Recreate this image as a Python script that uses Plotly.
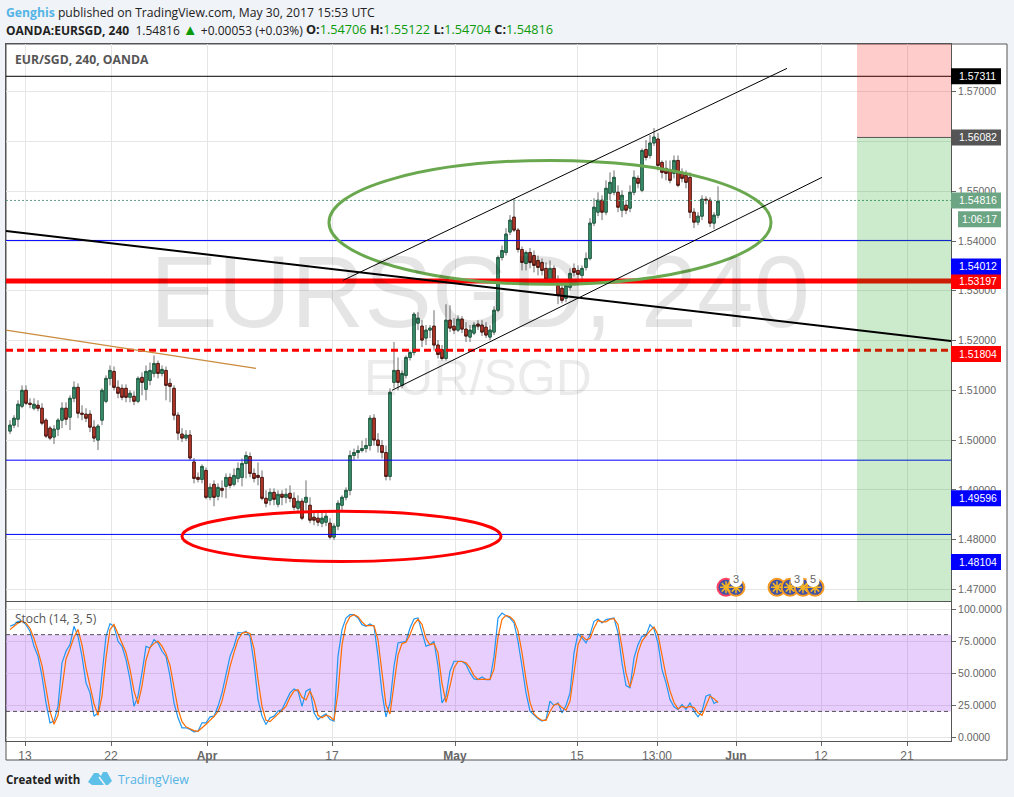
import plotly.graph_objects as go

opens = [1.5018,1.5030,1.5042,1.5068,1.5100,1.5074,1.5064,1.5070,1.5064,1.5040,
1.5024,1.5006,1.5022,1.5040,1.5064,1.5046,1.5084,1.5106,1.5054,1.5052,
1.5052,1.5026,1.5000,1.5040,1.5078,1.5124,1.5138,1.5106,1.5104,1.5104,
1.5086,1.5088,1.5078,1.5126,1.5102,1.5120,1.5134,1.5154,1.5134,1.5140,
1.5114,1.5104,1.5050,1.5012,1.5004,1.5010,1.4956,1.4925,1.4921,1.4939,
1.4885,1.4911,1.4887,1.4903,1.4907,1.4925,1.4911,1.4923,1.4925,1.4953,
1.4967,1.4933,1.4929,1.4925,1.4883,1.4879,1.4895,1.4871,1.4891,1.4885,
1.4893,1.4883,1.4863,1.4877,1.4875,1.4869,1.4845,1.4843,1.4833,1.4835,
1.4833,1.4805,1.4827,1.4869,1.4885,1.4899,1.4969,1.4975,1.4979,1.4983,
1.4989,1.5044,1.5000,1.4989,1.4975,1.4927,1.5116,1.5140,1.5110,1.5130,
1.5166,1.5176,1.5235,1.5229,1.5205,1.5221,1.5229,1.5191,1.5182,1.5164,
1.5241,1.5229,1.5221,1.5243,1.5223,1.5207,1.5215,1.5233,1.5231,1.5227,
1.5207,1.5217,1.5261,1.5367,1.5377,1.5418,1.5448,1.5422,1.5383,1.5355,
1.5377,1.5371,1.5361,1.5357,1.5345,1.5323,1.5345,1.5311,1.5305,1.5285,
1.5307,1.5345,1.5341,1.5331,1.5347,1.5365,1.5436,1.5458,1.5482,1.5458,
1.5496,1.5498,1.5498,1.5462,1.5472,1.5466,1.5498,1.5526,1.5502,1.5584,
1.5572,1.5597,1.5605,1.5558,1.5546,1.5542,1.5536,1.5562,1.5538,1.5532,
1.5528,1.5458,1.5438,1.5450,1.5484,1.5482,1.5436,1.5452]
closes = [1.5030,1.5044,1.5072,1.5100,1.5074,1.5072,1.5072,1.5064,1.5034,1.5008,
1.5004,1.5022,1.5040,1.5064,1.5042,1.5084,1.5106,1.5054,1.5052,1.5044,
1.5026,1.5004,1.5028,1.5100,1.5124,1.5140,1.5106,1.5094,1.5086,1.5086,
1.5094,1.5078,1.5124,1.5116,1.5138,1.5140,1.5154,1.5134,1.5142,1.5110,
1.5108,1.5050,1.5014,1.5004,1.5010,1.4964,1.4923,1.4921,1.4947,1.4885,
1.4905,1.4885,1.4905,1.4899,1.4925,1.4909,1.4929,1.4943,1.4953,1.4969,
1.4933,1.4923,1.4925,1.4883,1.4873,1.4895,1.4881,1.4891,1.4885,1.4891,
1.4883,1.4865,1.4877,1.4843,1.4885,1.4839,1.4839,1.4835,1.4843,1.4847,
1.4805,1.4827,1.4873,1.4885,1.4899,1.4969,1.4975,1.4979,1.4983,1.4989,
1.5044,1.5000,1.4989,1.4975,1.4927,1.5096,1.5140,1.5116,1.5134,1.5166,
1.5176,1.5253,1.5245,1.5201,1.5221,1.5225,1.5191,1.5172,1.5164,1.5241,
1.5225,1.5221,1.5243,1.5223,1.5209,1.5221,1.5231,1.5229,1.5217,1.5211,
1.5221,1.5261,1.5367,1.5381,1.5414,1.5442,1.5422,1.5383,1.5357,1.5377,
1.5357,1.5351,1.5347,1.5341,1.5323,1.5345,1.5321,1.5291,1.5281,1.5311,
1.5335,1.5337,1.5333,1.5345,1.5365,1.5436,1.5468,1.5482,1.5458,1.5506,
1.5518,1.5528,1.5468,1.5492,1.5462,1.5498,1.5528,1.5516,1.5582,1.5568,
1.5597,1.5609,1.5552,1.5538,1.5536,1.5522,1.5562,1.5512,1.5526,1.5518,
1.5458,1.5438,1.5450,1.5484,1.5482,1.5436,1.5452,1.5480]
highs = [1.5040,1.5050,1.5080,1.5110,1.5110,1.5084,1.5084,1.5080,1.5074,1.5044,
1.5028,1.5030,1.5044,1.5076,1.5076,1.5090,1.5118,1.5114,1.5070,1.5064,
1.5060,1.5040,1.5032,1.5104,1.5130,1.5150,1.5148,1.5120,1.5112,1.5112,
1.5100,1.5098,1.5128,1.5136,1.5150,1.5156,1.5170,1.5160,1.5150,1.5148,
1.5124,1.5110,1.5056,1.5024,1.5020,1.5020,1.4964,1.4935,1.4951,1.4945,
1.4913,1.4919,1.4913,1.4919,1.4933,1.4933,1.4943,1.4955,1.4963,1.4977,
1.4975,1.4943,1.4955,1.4939,1.4899,1.4903,1.4903,1.4899,1.4899,1.4903,
1.4909,1.4895,1.4889,1.4883,1.4919,1.4885,1.4859,1.4859,1.4859,1.4859,
1.4843,1.4833,1.4879,1.4889,1.4905,1.4979,1.4983,1.4989,1.4999,1.5004,
1.5050,1.5052,1.5014,1.5000,1.4989,1.5104,1.5197,1.5166,1.5140,1.5170,
1.5180,1.5257,1.5257,1.5241,1.5231,1.5231,1.5261,1.5201,1.5191,1.5273,
1.5271,1.5245,1.5251,1.5249,1.5237,1.5231,1.5237,1.5241,1.5241,1.5237,
1.5231,1.5269,1.5371,1.5391,1.5426,1.5452,1.5486,1.5426,1.5389,1.5381,
1.5386,1.5381,1.5371,1.5365,1.5357,1.5361,1.5351,1.5331,1.5321,1.5321,
1.5345,1.5355,1.5351,1.5351,1.5377,1.5446,1.5486,1.5498,1.5492,1.5522,
1.5538,1.5542,1.5512,1.5502,1.5482,1.5512,1.5542,1.5532,1.5586,1.5603,
1.5613,1.5627,1.5617,1.5562,1.5562,1.5562,1.5572,1.5572,1.5546,1.5542,
1.5538,1.5466,1.5458,1.5492,1.5490,1.5488,1.5458,1.5510]
lows = [1.5012,1.5024,1.5026,1.5064,1.5070,1.5064,1.5060,1.5058,1.5030,1.5004,
1.5000,1.4992,1.5008,1.5024,1.5030,1.5020,1.5076,1.5044,1.5040,1.5036,
1.5016,1.4996,1.4980,1.5030,1.5074,1.5110,1.5100,1.5084,1.5080,1.5076,
1.5076,1.5070,1.5074,1.5090,1.5080,1.5110,1.5126,1.5124,1.5128,1.5080,
1.5076,1.5040,1.5000,1.4996,1.4998,1.4960,1.4913,1.4915,1.4913,1.4881,
1.4879,1.4867,1.4879,1.4885,1.4883,1.4903,1.4907,1.4915,1.4907,1.4923,
1.4925,1.4915,1.4909,1.4879,1.4865,1.4869,1.4869,1.4865,1.4869,1.4873,
1.4875,1.4859,1.4855,1.4839,1.4859,1.4833,1.4829,1.4827,1.4825,1.4827,
1.4801,1.4799,1.4819,1.4859,1.4879,1.4889,1.4959,1.4963,1.4975,1.4975,
1.4979,1.4989,1.4975,1.4963,1.4919,1.4919,1.5104,1.5100,1.5104,1.5124,
1.5160,1.5170,1.5221,1.5187,1.5191,1.5205,1.5180,1.5164,1.5160,1.5160,
1.5217,1.5213,1.5217,1.5215,1.5197,1.5197,1.5211,1.5221,1.5209,1.5205,
1.5201,1.5211,1.5257,1.5361,1.5371,1.5412,1.5418,1.5377,1.5341,1.5341,
1.5345,1.5337,1.5331,1.5331,1.5317,1.5317,1.5315,1.5273,1.5275,1.5277,
1.5301,1.5329,1.5321,1.5317,1.5341,1.5361,1.5430,1.5450,1.5442,1.5452,
1.5482,1.5492,1.5458,1.5448,1.5454,1.5458,1.5492,1.5506,1.5498,1.5562,
1.5566,1.5591,1.5542,1.5526,1.5522,1.5516,1.5526,1.5508,1.5518,1.5506,
1.5446,1.5426,1.5432,1.5442,1.5474,1.5428,1.5424,1.5446]

stoch_k = [86.5,87.8,90.4,90.4,87.8,82.6,70.9,63,47.5,26.7,
11.1,12.4,24,57.9,67,72.2,86.5,78.7,63,42.3,
34.5,16.3,18.9,47.5,78.7,88.6,86.5,74.8,70.9,60.5,
44.9,24,31.9,50.1,70.9,69.6,76.1,73.5,67,63,
47.5,26.7,15,7.2,7.2,5.9,4.1,4.6,11.1,11.1,
15.8,16.3,24,34.5,48.8,63,70.9,81.8,81.3,82.6,
78.7,57.9,29.3,16.3,9.8,15,16.3,20.2,21.5,28,
34.5,37.6,35.8,24,35.8,37.6,18.9,13.7,16.3,18.1,
13.7,12.4,63,83.9,93,95.6,95.6,93,87.8,86.5,
88.3,86.5,63,34.5,15.8,26.7,55.3,73.5,74,74.8,
85.2,92.2,93,81.3,70.9,72.2,74.8,55.3,26.7,31.9,
51.4,59.2,59.2,59.2,56.6,50.1,45.4,44.9,47,44.9,
44.9,63,93,96.9,94.8,93,89.1,74.8,55.3,34.5,
20.2,16.8,14.2,12.4,13.7,28,24.6,26.7,18.9,24.6,
34.5,65.7,80.8,77.4,73.5,80,90.4,92.2,89.1,91.7,
92.2,93,81.3,57.9,40.2,38.4,61.8,72.2,78.7,79.2,
87.8,84.4,73.5,52.7,42.3,29.3,23.6,21.5,25.4,21.5,
26.7,20.2,15.8,20.2,31.9,33.2,26.2,28]
stoch_d = [84,86.5,89,90.5,89,85,77,67,56,38,
20,10,17,38,61,69,78,84,72,54,
39,26,17,32,62,84,88,81,73,66,
53,36,26,40,60,70,73,75,71,65,
56,38,22,12,8,6.5,5,4.5,7,10,
13,16,20,28,41,55,66,76,81,82,
81,69,45,24,13,12,15,18,21,24,
31,36,37,31,29,36,29,17,15,17,
16,13,35,72,88,94,95.6,94,90,87,
87,87,76,50,25,18,40,64,73,74,
80,88,92,88,77,72,73,66,42,27,
40,54,59,59,58,54,48,45,45,45,
45,53,78,92,95,94,91,83,66,45,
27,18,15,13,13,20,25,26,23,21,
28,50,72,79,76,77,85,91,90,90,
92,92.5,88,70,50,39,50,66,75,79,
83,86,80,64,48,36,27,22,24,23,
24,23,19,17,25,32,30,27]

assert all(len(a) == 178 for a in (opens, closes, highs, lows, stoch_k, stoch_d))
bars = list(range(178))

date_tick_bars = [3.75, 25.25, 49.25, 80.5, 111.25, 141.75, 161.75, 181.5, 202.75, 224.25]
date_tick_labels = ["13", "22", "<b>Apr</b>", "17", "<b>May</b>", "15", "13:00", "<b>Jun</b>", "12", "21"]
price_ticks = [1.47, 1.48, 1.49, 1.50, 1.51, 1.52, 1.53, 1.54, 1.55, 1.56, 1.57]
price_tick_labels = ["1.47000", "1.48000", "1.49000", "1.50000", "1.51000", "1.52000", "1.53000", "1.54000", "1.55000", "1.56000", "1.57000"]
stoch_ticks = [0, 25, 50, 75, 100]
stoch_tick_labels = ["0.0000", "25.0000", "50.0000", "75.0000", "100.0000"]

# (price, colour, width, dash)
level_lines = [
    (1.57311, "#000000", 1, "solid"),
    (1.54012, "#0000ff", 1, "solid"),
    (1.49596, "#0000ff", 1, "solid"),
    (1.48104, "#0000ff", 1, "solid"),
    (1.53197, "#ff0000", 5, "solid"),
    (1.51804, "#ff0000", 3, "7px,4px"),
    (1.54816, "#5f9f80", 1, "2px,2px"),
]
# (bar0, price0, bar1, price1, colour, width)
trend_lines = [
    (-1, 1.5420, 235.25, 1.5199, "#000000", 2),
    (83.25, 1.5321, 194.25, 1.5747, "#000000", 1),
    (95.5, 1.5100, 203, 1.5528, "#000000", 1),
    (-1, 1.5221, 61.5, 1.5144, "#c98a3c", 1.2),
]
# (bar0, price0, bar1, price1, colour)
ellipses = [
    (79.75, 1.5313, 190.25, 1.5562, "#6aa84f"),
    (43, 1.4756, 122.75, 1.4857, "#ff0000"),
]
target_price = 1.56082
top_price = 1.5796
bottom_price = 1.46766
box_start_bar = 211.75
box_end_bar = 235.25

# (text, tag centre on the price axis, colour)
price_tags = [
    ("1.57311", 1.57311, "#000000"),
    ("1.56082", 1.56082, "#555555"),
    ("1.54816", 1.54816, "#6ba583"),
    ("1.53197", 1.53197, "#ff0000"),
    ("1.54012", 1.5349, "#0000ff"),
    ("1.51804", 1.5173, "#ff0000"),
    ("1.49596", 1.4883, "#0000ff"),
    ("1.48104", 1.4755, "#0000ff"),
]
countdown_text = "1:06:17"
countdown_pos = 1.5444

event_bars = [179, 181.5, 191.75, 195, 198.25, 201.25]
event_rings = ["#ff4060", "#f59a23", "#f59a23", "#f59a23", "#f59a23", "#f59a23"]
badge_bars = [181.5, 196.75, 200.75]
badge_labels = ["3", "3", "5"]
event_price = 1.4704
badge_price = 1.4718

W, H = 1014, 797
px = lambda x: x / W
py = lambda y: 1 - y / H

FONT = "Liberation Sans"
HEAD = "Open Sans"
GRID = "#e6e6e6"
FRAME = "#555555"

fig = go.Figure()

# wicks, then bodies on top
fig.add_trace(go.Candlestick(
    x=bars, open=opens, high=highs, low=lows, close=closes,
    increasing=dict(line=dict(color="#6e6e6e", width=1), fillcolor="#6e6e6e"),
    decreasing=dict(line=dict(color="#6e6e6e", width=1), fillcolor="#6e6e6e"),
    showlegend=False, hoverinfo="skip"))
fig.add_trace(go.Candlestick(
    x=bars, open=opens, close=closes,
    high=[max(o, c) for o, c in zip(opens, closes)],
    low=[min(o, c) for o, c in zip(opens, closes)],
    increasing=dict(line=dict(color="#1f5c40", width=1), fillcolor="#3f9a75"),
    decreasing=dict(line=dict(color="#4a1510", width=1), fillcolor="#d0402f"),
    showlegend=False, hoverinfo="skip"))

# calendar event markers
fig.add_trace(go.Scatter(
    x=event_bars, y=[event_price] * len(event_bars), mode="markers",
    marker=dict(size=17, color="#3f51a5", line=dict(color=event_rings, width=2)),
    showlegend=False, hoverinfo="skip"))
fig.add_trace(go.Scatter(
    x=event_bars, y=[event_price] * len(event_bars), mode="markers",
    marker=dict(size=10, color="#f5b423", symbol="asterisk-open", line=dict(color="#f5b423", width=1.5)),
    showlegend=False, hoverinfo="skip"))
fig.add_trace(go.Scatter(
    x=badge_bars, y=[badge_price] * len(badge_bars), mode="markers+text",
    text=badge_labels, textposition="middle center",
    textfont=dict(family=FONT, size=11, color="#666666"),
    marker=dict(size=13, color="#ffffff"),
    showlegend=False, hoverinfo="skip"))

# stochastic pane
fig.add_trace(go.Scatter(x=bars, y=stoch_k, xaxis="x2", yaxis="y2", mode="lines",
                         line=dict(color="#2196f3", width=1.2), showlegend=False, hoverinfo="skip"))
fig.add_trace(go.Scatter(x=bars, y=stoch_d, xaxis="x2", yaxis="y2", mode="lines",
                         line=dict(color="#ff6d00", width=1.2), showlegend=False, hoverinfo="skip"))

shapes = [dict(type="rect", xref="paper", yref="paper", x0=px(6), x1=px(1007), y0=py(760), y1=py(44),
               fillcolor="#ffffff", line=dict(color=FRAME, width=1), layer="below")]

# stochastic band
shapes.append(dict(type="rect", xref="x2", yref="y2", x0=-1, x1=box_end_bar, y0=20, y1=80,
                   fillcolor="rgba(140,10,240,0.2)", line=dict(width=0), layer="between"))
for v in (20, 80):
    shapes.append(dict(type="line", xref="x2", yref="y2", x0=-1, x1=box_end_bar, y0=v, y1=v,
                       line=dict(color="#555555", width=1, dash="4px,3px"), layer="above"))

# analysis drawings
for price, color, width, dash in level_lines:
    shapes.append(dict(type="line", xref="x", yref="y", x0=-1, x1=box_end_bar, y0=price, y1=price,
                       line=dict(color=color, width=width, dash=dash), layer="above"))
for e in ellipses:
    shapes.append(dict(type="circle", xref="x", yref="y", x0=e[0], y0=e[1], x1=e[2], y1=e[3],
                       line=dict(color=e[4], width=3), layer="above"))
# risk / reward boxes sit over the level lines
shapes.append(dict(type="rect", xref="x", yref="y", x0=box_start_bar, x1=box_end_bar, y0=target_price, y1=top_price,
                   fillcolor="rgba(255,0,0,0.2)", line=dict(width=0), layer="above"))
shapes.append(dict(type="rect", xref="x", yref="y", x0=box_start_bar, x1=box_end_bar, y0=bottom_price, y1=target_price,
                   fillcolor="rgba(0,150,0,0.2)", line=dict(width=0), layer="above"))
shapes.append(dict(type="line", xref="x", yref="y", x0=box_start_bar, x1=box_end_bar, y0=target_price, y1=target_price,
                   line=dict(color="#555555", width=1), layer="above"))
for t in trend_lines:
    shapes.append(dict(type="line", xref="x", yref="y", x0=t[0], y0=t[1], x1=t[2], y1=t[3],
                       line=dict(color=t[4], width=t[5]), layer="above"))

annotations = []


def text(x, y, s, size=12, color="#333333", family=HEAD, xanchor="left", yref="paper"):
    annotations.append(dict(x=x, y=y, xref="paper", yref=yref, text=s, showarrow=False,
                            xanchor=xanchor, yanchor="middle",
                            font=dict(family=family, size=size, color=color)))


# price tags
for label, pos, color in price_tags:
    shapes.append(dict(type="rect", xref="paper", yref="y", x0=px(951), x1=px(1001),
                       yanchor=pos, ysizemode="pixel", y0=-8, y1=8,
                       fillcolor=color, line=dict(width=0), layer="above"))
    text(px(956.5), pos, label, size=10.5, color="#ffffff", family=FONT, yref="y")
shapes.append(dict(type="rect", xref="paper", yref="y", x0=px(958), x1=px(1001),
                   yanchor=countdown_pos, ysizemode="pixel", y0=-8, y1=8,
                   fillcolor="#6ba583", line=dict(width=0), layer="above"))
text(px(959.5), countdown_pos, countdown_text, size=10.5, color="#ffffff", family=FONT, yref="y")

# watermark
annotations.append(dict(x=117.5, y=1.5297, xref="x", yref="y", text="EURSGD, 240", showarrow=False,
                        font=dict(family=FONT, size=101.5, color="rgba(0,0,0,0.10)"), xanchor="center", yanchor="middle"))
annotations.append(dict(x=117, y=1.5124, xref="x", yref="y", text="EUR/SGD", showarrow=False,
                        font=dict(family=FONT, size=50, color="rgba(0,0,0,0.08)"), xanchor="center", yanchor="middle"))

# header / labels
text(px(4), py(12), "<span style='color:#53b4e6'><b>Genghis</b></span> <span>published on TradingView.com, May 30, 2017 15:53 UTC</span>",
     size=12.2, color="#222222")
G = "#0a9a0a"
text(px(4), py(29),
     f"<b>OANDA:EURSGD, 240</b>  1.54816 <span style='color:{G};font-size:15px'>▲</span> +0.00053 (+0.03%)",
     size=12, color="#222222")
text(px(304), py(29),
     f"<b>O:</b><span style='color:{G}'>1.54706</span> <b>H:</b><span style='color:{G}'>1.55122</span> "
     f"<b>L:</b><span style='color:{G}'>1.54704</span> <b>C:</b><span style='color:{G}'>1.54816</span>",
     size=12.7, color="#222222")
text(px(13), py(60), "<b>EUR/SGD, 240, OANDA</b>", size=12.2, color="#555555")
text(px(12.5), py(618), "Stoch (14, 3, 5)", size=12, color="#555555")
text(px(4), py(779), "<b>Created with</b>", size=11.5, color="#222222")
text(px(116), py(779), "TradingView", size=12.4, color="#53b4e6")

# TradingView logo
logo = [(88, 782), (94, 773), (98, 773), (101, 776), (103, 772), (107, 772), (112, 781), (108, 785), (92, 785)]
shapes.append(dict(type="path", xref="paper", yref="paper",
                   path="M " + " L ".join(f"{px(a):.5f},{py(b):.5f}" for a, b in logo) + " Z",
                   fillcolor="#5cc0e8", line=dict(width=0), layer="above"))
shapes.append(dict(type="line", xref="paper", yref="paper", x0=px(99), y0=py(777), x1=px(105), y1=py(785),
                   line=dict(color="#f0f3f7", width=1.5), layer="above"))

axis_font = dict(family=FONT, size=10.5, color="#666666")
xcommon = dict(range=[-1, 235.25], domain=[px(6), px(951)], showgrid=True, gridcolor=GRID, gridwidth=1,
               tickmode="array", tickvals=date_tick_bars, zeroline=False,
               showline=True, linecolor=FRAME, linewidth=1, mirror=True)
ycommon = dict(side="right", showgrid=True, gridcolor=GRID, gridwidth=1, zeroline=False,
               ticks="outside", ticklen=4, tickcolor="#666666", tickfont=axis_font,
               showline=True, linecolor=FRAME, linewidth=1, mirror=True, tickmode="array")

fig.update_layout(
    width=W, height=H + 2, margin=dict(l=0, r=0, t=0, b=0), autosize=False,
    paper_bgcolor="#f0f3f7", plot_bgcolor="rgba(0,0,0,0)", showlegend=False,
    hovermode=False, dragmode=False, boxgap=0.12,
    xaxis=dict(xcommon, anchor="y", showticklabels=False, ticks="", rangeslider=dict(visible=False)),
    xaxis2=dict(xcommon, anchor="y2", matches="x", ticktext=date_tick_labels, ticks="outside", ticklen=4,
                tickcolor="#666666", tickfont=dict(family=FONT, size=12, color="#666666"),
                rangeslider=dict(visible=False)),
    yaxis=dict(ycommon, anchor="x", domain=[py(601), py(44)], range=[bottom_price, top_price],
               tickvals=price_ticks, ticktext=price_tick_labels),
    yaxis2=dict(ycommon, anchor="x2", domain=[py(741), py(602)], range=[-3.1, 105.5],
                tickvals=stoch_ticks, ticktext=stoch_tick_labels),
    shapes=shapes, annotations=annotations,
)

fig.write_html("out.html", config={"displayModeBar": False},
               post_script="document.body.style.margin='0';document.body.style.overflow='hidden';")
